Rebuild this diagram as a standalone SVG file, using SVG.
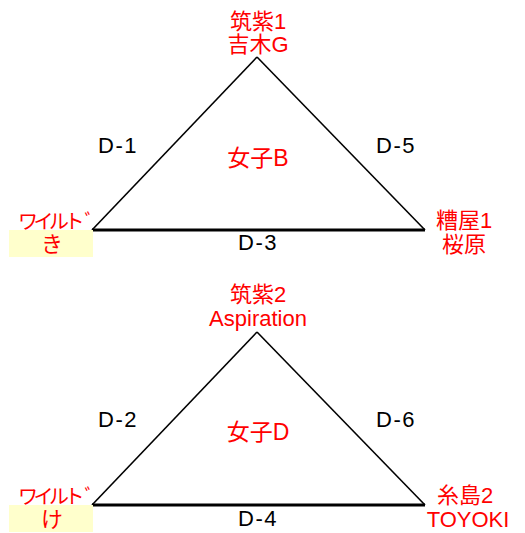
<svg xmlns="http://www.w3.org/2000/svg" width="525" height="533" viewBox="0 0 525 533">
<style>
.r{fill:#ff0000;font-family:"Liberation Sans","Noto Sans CJK JP",sans-serif;font-size:22px;text-anchor:middle}
.c{font-size:23px}
.w{font-size:20px;letter-spacing:-4.5px;text-anchor:start}
.k{fill:#000;font-family:"Liberation Sans","Noto Sans CJK JP",sans-serif;font-size:22px;text-anchor:middle;letter-spacing:1.5px}
.side{stroke:#000;stroke-width:1.6;fill:none}
.base{stroke:#000;stroke-width:3;fill:none}
.hl{fill:#ffffcc}
</style>
<rect width="525" height="533" fill="#fff"/>
<g id="connectors">
<line class="side" x1="92" y1="230" x2="257" y2="57"/>
<line class="side" x1="257" y1="57" x2="425" y2="230"/>
<line class="base" x1="92" y1="230" x2="425" y2="230"/>
<line class="side" x1="92" y1="505" x2="257" y2="332"/>
<line class="side" x1="257" y1="332" x2="425" y2="505"/>
<line class="base" x1="92" y1="505" x2="425" y2="505"/>
<text class="k" x="118" y="153">D-1</text>
<text class="k" x="396" y="153">D-5</text>
<text class="k" x="258" y="250">D-3</text>
<text class="k" x="118" y="427">D-2</text>
<text class="k" x="396" y="427">D-6</text>
<text class="k" x="258" y="526">D-4</text>
</g>
<g id="chikushi1"><text class="r" x="258" y="29">筑紫1</text><text class="r" x="258" y="52">吉木G</text></g>
<g id="joshiB"><text class="r c" x="258" y="166">女子B</text></g>
<g id="wild-ki"><rect class="hl" x="9" y="230" width="84" height="27"/><text class="r w" x="18" y="229">ワイルトﾞ</text><text class="r" x="52" y="252">き</text></g>
<g id="kasuya1"><text class="r" x="464" y="228">糟屋1</text><text class="r" x="464" y="252">桜原</text></g>
<g id="chikushi2"><text class="r" x="258" y="302">筑紫2</text><text class="r" x="258" y="326">Aspiration</text></g>
<g id="joshiD"><text class="r c" x="258" y="440">女子D</text></g>
<g id="wild-ke"><rect class="hl" x="9" y="505" width="84" height="27"/><text class="r w" x="18" y="504">ワイルトﾞ</text><text class="r" x="52" y="527">け</text></g>
<g id="itoshima2"><text class="r" x="465" y="503">糸島2</text><text class="r" x="468" y="527">TOYOKI</text></g>
</svg>
